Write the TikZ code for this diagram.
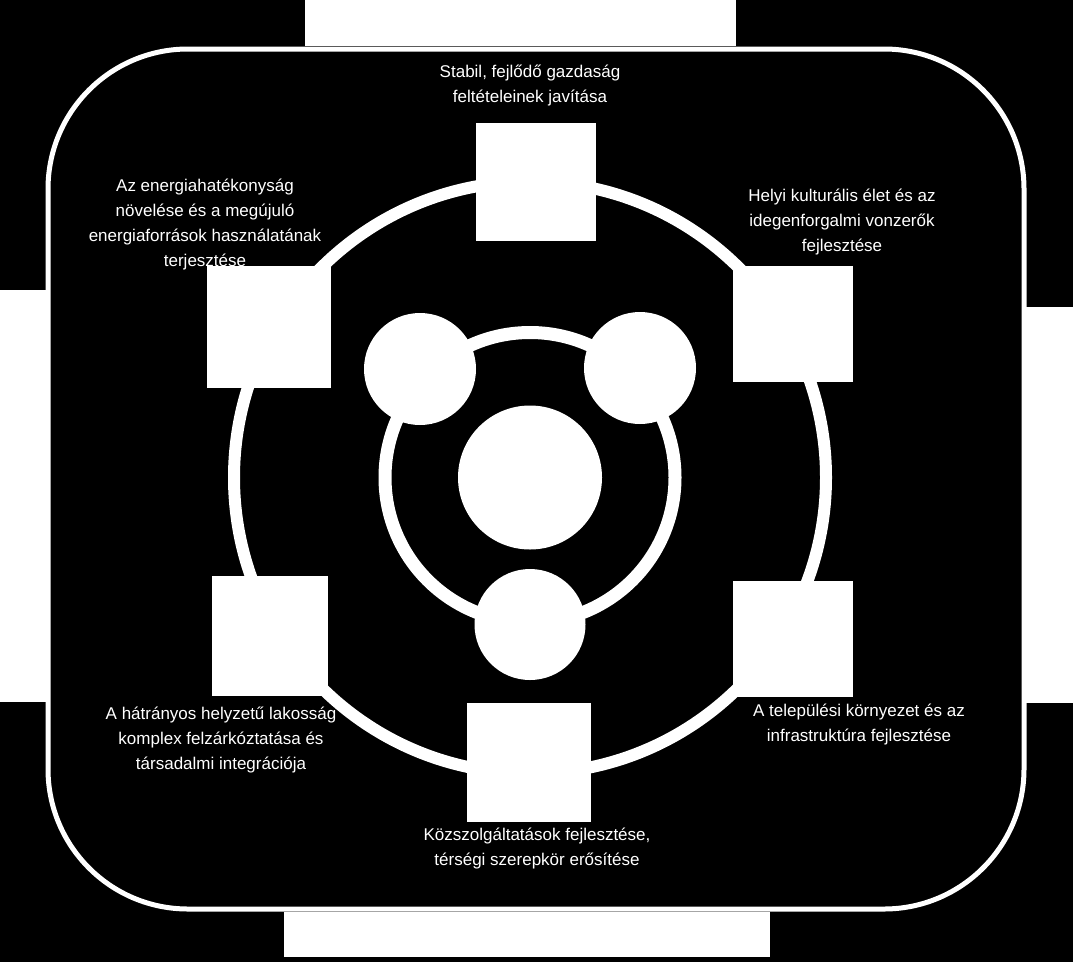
\documentclass[tikz,border=0pt]{standalone}
\usepackage{fontspec}
\setmainfont{Liberation Sans}
\tikzset{
  goalbox/.style={fill=white, draw=none, inner sep=0pt, minimum width=120pt, minimum height=118pt},
  hubdisc/.style={circle, fill=white, draw=none, inner sep=0pt},
  goaltext/.style={text=white, align=center, inner sep=0pt, font=\fontsize{17}{25}\selectfont},
  ringline/.style={draw=white, line width=12pt},
  edgepatch/.style={fill=white, draw=none}
}

\begin{document}
\begin{tikzpicture}[x=1pt, y=-1pt]
  \fill[black] (0,0) rectangle (1073,962);
  \useasboundingbox (0,0) rectangle (1073,962);

  % white patches along the border
  \path[edgepatch] (305,0) rectangle (736,46);
  \path[edgepatch] (0,290) rectangle (50,702);
  \path[edgepatch] (1022,307) rectangle (1073,703);
  \path[edgepatch] (284,912) rectangle (770,957);

  % frame and rings
  \draw[white, line width=5pt, rounded corners=140pt] (48,49) rectangle (1024,909);
  \draw[ringline] (530,477.5) circle[radius=296];
  \draw[ringline, line width=13pt] (530,477.5) circle[radius=145];

  % labels
  \node[goaltext] (tN)  at (530,86)  {Stabil, fejlődő gazdaság\\feltételeinek javítása};
  \node[goaltext] (tNW) at (205,224) {Az energiahatékonyság\\növelése és a megújuló\\energiaforrások használatának\\terjesztése};
  \node[goaltext] (tNE) at (842,222) {Helyi kulturális élet és az\\idegenforgalmi vonzerők\\fejlesztése};
  \node[goaltext] (tSW) at (221,740) {A hátrányos helyzetű lakosság\\komplex felzárkóztatása és\\társadalmi integrációja};
  \node[goaltext] (tSE) at (859,724) {A települési környezet és az\\infrastruktúra fejlesztése};
  \node[goaltext] (tS)  at (537,848) {Közszolgáltatások fejlesztése,\\térségi szerepkör erősítése};

  % discs on the inner ring
  \node[hubdisc, minimum size=144pt] (core) at (530,477.5) {};
  \node[hubdisc, minimum size=112pt] (dNW)  at (420,369) {};
  \node[hubdisc, minimum size=112pt] (dNE)  at (640,368) {};
  \node[hubdisc, minimum size=111pt] (dS)   at (530,624.5) {};

  % squares on the outer ring
  \node[goalbox] (sN)  at (536,182) {};
  \node[goalbox, minimum width=124pt, minimum height=122pt] (sNW) at (269,327) {};
  \node[goalbox, minimum height=116pt] (sNE) at (793,324) {};
  \node[goalbox, minimum width=116pt, minimum height=120pt] (sSW) at (270,636) {};
  \node[goalbox, minimum height=116pt] (sSE) at (793,639) {};
  \node[goalbox, minimum width=124pt, minimum height=119pt] (sS)  at (529,762.5) {};
\end{tikzpicture}
\end{document}
